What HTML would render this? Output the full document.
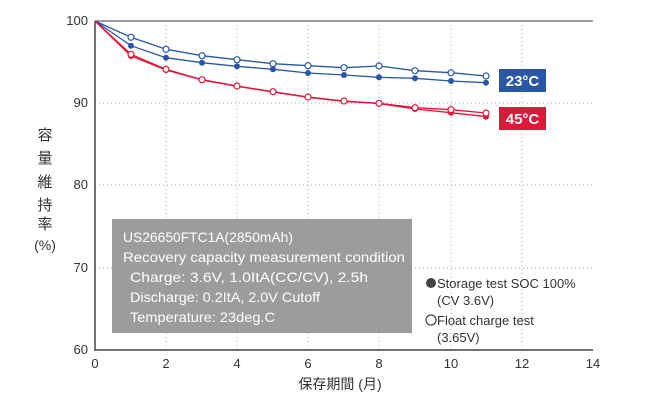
<!DOCTYPE html>
<html><head><meta charset="utf-8"><style>
body{margin:0;background:#fff}
svg text{font-family:"Liberation Sans","Noto Sans CJK JP",sans-serif}
</style></head><body>
<svg width="660" height="400" viewBox="0 0 660 400" xmlns="http://www.w3.org/2000/svg">
<g stroke="#aaa" stroke-dasharray="1,3" stroke-width="1">
<line x1="166" y1="21" x2="166" y2="350"/><line x1="237" y1="21" x2="237" y2="350"/>
<line x1="308" y1="21" x2="308" y2="350"/><line x1="379" y1="21" x2="379" y2="350"/>
<line x1="451" y1="21" x2="451" y2="350"/><line x1="522" y1="21" x2="522" y2="350"/>
<line x1="95" y1="103" x2="593" y2="103"/><line x1="95" y1="185" x2="593" y2="185"/>
<line x1="95" y1="268" x2="593" y2="268"/>
</g>
<line x1="95" y1="21" x2="593" y2="21" stroke="#666" stroke-width="1.2"/>
<polyline points="95,21 95,350 593,350" fill="none" stroke="#444" stroke-width="1.5"/>
<g font-size="13" fill="#333" text-anchor="end">
<text x="88" y="25">100</text><text x="88" y="107">90</text><text x="88" y="189">80</text><text x="88" y="272">70</text><text x="88" y="354">60</text>
</g>
<g font-size="13" fill="#333" text-anchor="middle">
<text x="95" y="368">0</text><text x="166" y="368">2</text><text x="237" y="368">4</text><text x="308" y="368">6</text><text x="379" y="368">8</text><text x="451" y="368">10</text><text x="522" y="368">12</text><text x="593" y="368">14</text>
<text x="340" y="389" font-size="14">保存期間 (月)</text>
<text x="45" y="140" font-size="15">容</text><text x="45" y="163" font-size="15">量</text><text x="45" y="187" font-size="15">維</text><text x="45" y="210" font-size="15">持</text><text x="45" y="229" font-size="15">率</text><text x="45" y="250" font-size="14">(%)</text>
</g>
<g fill="none" stroke-width="1.3">
<polyline stroke="#2a56a6" points="95,21 131,37.3 166,49.3 202,55.7 237,59.7 273,63.7 308,65.7 344,67.7 379,66 415,70.7 451,72.7 486,76"/>
<polyline stroke="#2a56a6" points="95,21 131,45.7 166,57.7 202,62.7 237,66.3 273,69.3 308,73 344,75 379,77.3 415,78.3 451,81 486,82.7"/>
<polyline stroke="#e0173a" points="95,21 131,54.3 166,69.3 202,79.7 237,86 273,91.7 308,97 344,101 379,103.3 415,107.7 451,109.7 486,113"/>
<polyline stroke="#e0173a" points="95,21 131,56 166,70 202,80 237,86.3 273,92 308,97.3 344,101.3 379,103.5 415,109 451,112.7 486,116.7"/>
</g>
<g fill="#2a56a6"><circle cx="131" cy="45.7" r="3"/><circle cx="166" cy="57.7" r="3"/><circle cx="202" cy="62.7" r="3"/><circle cx="237" cy="66.3" r="3"/><circle cx="273" cy="69.3" r="3"/><circle cx="308" cy="73" r="3"/><circle cx="344" cy="75" r="3"/><circle cx="379" cy="77.3" r="3"/><circle cx="415" cy="78.3" r="3"/><circle cx="451" cy="81" r="3"/><circle cx="486" cy="82.7" r="3"/></g>
<g fill="#e0173a"><circle cx="131" cy="56" r="3"/><circle cx="166" cy="70" r="3"/><circle cx="202" cy="80" r="3"/><circle cx="237" cy="86.3" r="3"/><circle cx="273" cy="92" r="3"/><circle cx="308" cy="97.3" r="3"/><circle cx="344" cy="101.3" r="3"/><circle cx="379" cy="103.5" r="3"/><circle cx="415" cy="109" r="3"/><circle cx="451" cy="112.7" r="3"/><circle cx="486" cy="116.7" r="3"/></g>
<g fill="#fff" stroke="#2a56a6" stroke-width="1.2"><circle cx="131" cy="37.3" r="3"/><circle cx="166" cy="49.3" r="3"/><circle cx="202" cy="55.7" r="3"/><circle cx="237" cy="59.7" r="3"/><circle cx="273" cy="63.7" r="3"/><circle cx="308" cy="65.7" r="3"/><circle cx="344" cy="67.7" r="3"/><circle cx="379" cy="66" r="3"/><circle cx="415" cy="70.7" r="3"/><circle cx="451" cy="72.7" r="3"/><circle cx="486" cy="76" r="3"/></g>
<g fill="#fff" stroke="#e0173a" stroke-width="1.2"><circle cx="131" cy="54.3" r="3"/><circle cx="166" cy="69.3" r="3"/><circle cx="202" cy="79.7" r="3"/><circle cx="237" cy="86" r="3"/><circle cx="273" cy="91.7" r="3"/><circle cx="308" cy="97" r="3"/><circle cx="344" cy="101" r="3"/><circle cx="379" cy="103.3" r="3"/><circle cx="415" cy="107.7" r="3"/><circle cx="451" cy="109.7" r="3"/><circle cx="486" cy="113" r="3"/></g>
<rect x="499" y="69" width="47" height="23" fill="#2a56a6"/>
<text x="522.5" y="86" fill="#fff" font-size="15" font-weight="bold" text-anchor="middle">23°C</text>
<rect x="499" y="107" width="47" height="23" fill="#e0173a"/>
<text x="522.5" y="124" fill="#fff" font-size="15" font-weight="bold" text-anchor="middle">45°C</text>
<rect x="112" y="219" width="300" height="114" fill="#9b9d9c"/>
<g fill="#fff" font-size="14">
<text x="123" y="242" textLength="170" lengthAdjust="spacingAndGlyphs">US26650FTC1A(2850mAh)</text>
<text x="123" y="262" textLength="282" lengthAdjust="spacingAndGlyphs">Recovery capacity measurement condition</text>
<text x="130" y="282" textLength="238" lengthAdjust="spacingAndGlyphs">Charge: 3.6V, 1.0ItA(CC/CV), 2.5h</text>
<text x="130" y="302" textLength="190" lengthAdjust="spacingAndGlyphs">Discharge: 0.2ItA, 2.0V Cutoff</text>
<text x="130" y="322" textLength="145" lengthAdjust="spacingAndGlyphs">Temperature: 23deg.C</text>
</g>
<g fill="#333" font-size="13">
<circle cx="431" cy="283" r="5" fill="#444"/>
<text x="437" y="288">Storage test SOC 100%</text>
<text x="437" y="305">(CV 3.6V)</text>
<circle cx="431" cy="320" r="5" fill="#fff" stroke="#444" stroke-width="1.2"/>
<text x="437" y="325">Float charge test</text>
<text x="437" y="342">(3.65V)</text>
</g>
</svg>
</body></html>
